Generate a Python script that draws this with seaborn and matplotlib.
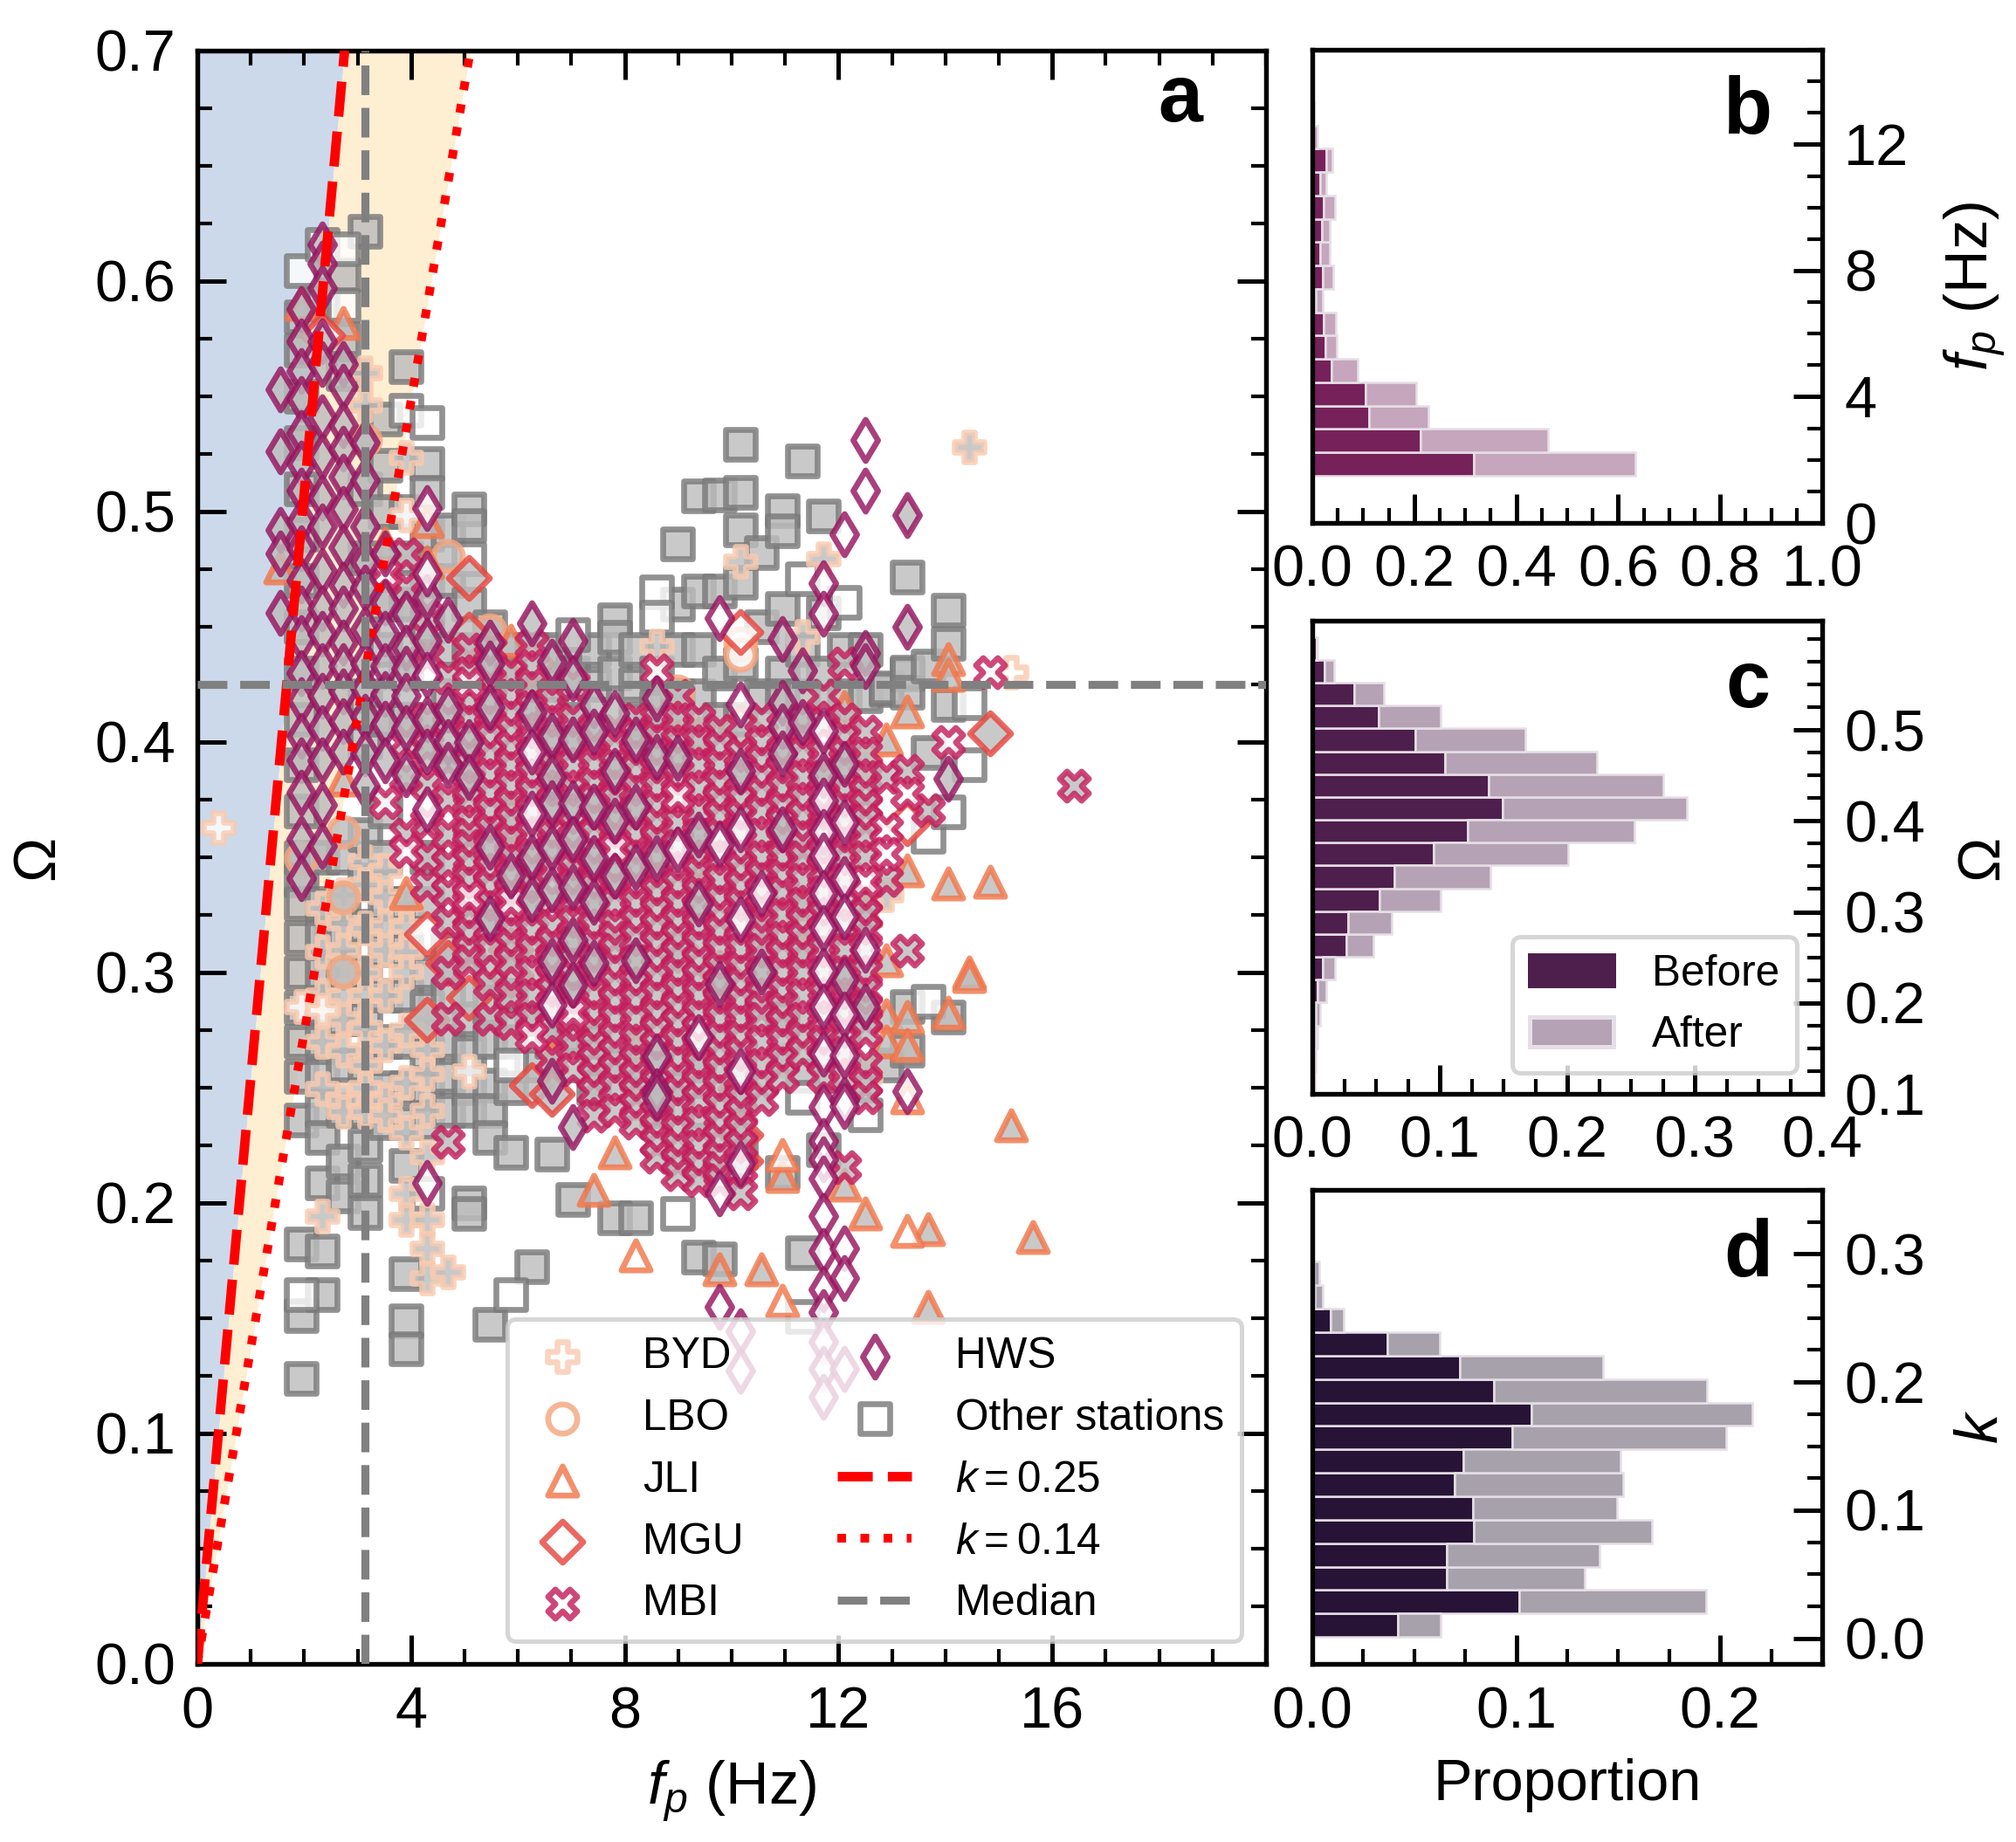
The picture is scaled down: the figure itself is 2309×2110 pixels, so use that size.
import numpy as np
import pandas as pd
import matplotlib
matplotlib.use('Agg')
import matplotlib.pyplot as plt
from matplotlib.patches import Patch
from matplotlib.ticker import MultipleLocator
import seaborn as sns

# scatter data: {fp in Hz: [Omega, ...]}
OTHER_FILLED = {
    1.95: [.5843, .57, .55, .53, .51, .49, .47, .45, .43, .41, .39, .37, .35, .34, .33, .315, .30, .285, .27, .255, .2358, .1822, .1512, .124],
    2.34: [.59, .35, .33, .315, .30, .285, .27, .255, .24, .2283, .2087, .179, .1601],
    2.73: [.6026, .575, .56, .35, .33, .315, .30, .28, .26, .24, .2182, .203],
    3.13: [.6215, .51, .48, .42, .40, .36, .34, .32, .30, .28, .26, .24, .225, .21, .196],
    3.52: [.54, .52, .50, .46, .44, .41, .37, .35, .33, .31, .29, .27, .25, .235],
    3.91: [.5628, .5, .48, .46, .43, .41, .33, .31, .29, .27, .25, .235, .2163, .1695, .1487, .1367],
    4.30: [.521, .5085, .49, .47, .45, .35, .33, .3, .285, .265, .25, .235],
    4.69: [.492, .47, .44, .42, .31, .29, .27, .255, .24],
    5.08: [.501, .494, .46, .44, .28, .265, .25, .24, .2, .1954],
    5.47: [.45, .43, .3, .285, .27, .251, .24, .2283, .1474],
    5.86: [.44, .43, .29, .27, .25, .222],
    6.25: [.44, .43, .28, .26, .1723],
    6.64: [.44, .425, .28, .27, .2213],
    7.03: [.43, .41, .27, .2017],
    7.42: [.44, .425, .27, .25],
    7.81: [.4529, .4454, .43, .26, .1935],
    8.20: [.44, .425, .41, .26, .1935],
    8.59: [.43, .415, .24],
    8.98: [.486, .46, .44, .42, .25],
    9.38: [.507, .4656, .44, .42, .26, .1765],
    9.77: [.5073, .4656, .43, .41, .1758],
    10.16: [.5291, .5085, .4921, .4694, .434, .41, .222],
    10.55: [.4823, .45, .42],
    10.94: [.5003, .4915, .458, .43, .42, .28, .2131],
    11.33: [.5221, .44, .42, .2554, .1784],
    11.72: [.4982, .4561, .43, .2232],
    12.11: [.44, .42],
    12.50: [.44, .42],
    12.89: [.4227, .4234, .26],
    13.28: [.4715, .4296, .4303, .4215, .2851, .2661],
    13.67: [.4328, .3956],
    14.06: [.4571, .4429, .4164, .2807],
}
OTHER_OPEN = {
    1.95: [.6045, .1601], 2.34: [.616], 2.73: [.614, .5893], 3.91: [.5439], 4.30: [.5388, .2043],
    5.08: [.4795], 5.86: [.26, .1601], 7.03: [.4466, .26], 8.59: [.465, .4542], 8.98: [.1954],
    9.38: [.24], 11.33: [.4707, .246, .1506], 12.11: [.4606], 12.50: [.2384],
    13.67: [.359, .2876], 14.06: [.3697], 14.45: [.4171, .3902],
}
BYD_FILLED = {
    2.34: [.328, .3091, .29, .2699, .2497, .1942],
    2.73: [.3337, .3217, .31, .29, .28, .2661, .2447, .2396],
    3.13: [.5603, .5464, .3482, .3381, .3192, .3, .29, .2762, .26, .25, .2396],
    3.52: [.3444, .3331, .3204, .31, .2901, .2687, .2447, .2384],
    3.91: [.5234, .33, .32, .3091, .3002, .275, .2522, .2308, .2043, .1929],
    4.30: [.28, .2668, .256, .24, .2201, .1929, .1803, .1676],
    4.69: [.1702],
    8.59: [.4416],
    10.16: [.4785],
    10.94: [.2623],
    11.33: [.446],
    11.72: [.4795],
    12.50: [.391, .2548],
    12.89: [.3337],
    14.45: [.5279],
}
BYD_OPEN = {0.39: [.363], 1.95: [.2851], 2.34: [.2838], 3.91: [.4984], 5.08: [.2573], 15.23: [.4302]}
LBO_FILLED = {1.95: [.3495], 2.73: [.3609, .3324, .3002], 3.13: [.5312], 4.69: [.4807], 5.47: [.4486], 8.98: [.4221, .4107]}
LBO_OPEN = {10.16: [.4429, .438]}
JLI_FILLED = {
    1.56: [.4757], 1.95: [.59], 2.73: [.5817, .3836], 3.52: [.486], 3.91: [.3343], 4.30: [.496, .478],
    5.86: [.444], 6.64: [.2636], 7.42: [.2055], 7.81: [.222], 8.20: [.2686], 8.98: [.4025], 9.38: [.4038],
    9.77: [.1714], 10.55: [.1714], 10.94: [.2118], 11.33: [.33, .31], 12.11: [.4152, .2081], 12.50: [.3268, .1954],
    12.89: [.4013, .3053, .2813, .2699], 13.28: [.4133, .3444, .2807, .2687], 13.67: [.1885, .155],
    14.06: [.436, .4291, .3388, .2825], 14.45: [.2999, .2985], 14.84: [.3394], 15.23: [.2339], 15.63: [.1853],
}
JLI_OPEN = {8.20: [.2434, .1771], 10.94: [.2207, .1575], 13.28: [.2459, .1878]}
MGU_FILLED = {
    4.30: [.2794], 4.69: [.304], 5.08: [.4712, .4466, .2889], 5.86: [.3659, .31, .299], 6.25: [.251], 6.64: [.2472],
    7.42: [.34], 8.98: [.31], 9.38: [.35], 9.77: [.3], 10.16: [.4063, .2497, .2295, .2182], 10.55: [.33], 14.84: [.4038],
}
MGU_OPEN = {2.34: [.5767], 4.30: [.3167], 6.25: [.4341], 10.16: [.4479], 13.28: [.3646]}
MBI_FILLED = {
    3.91: [.4813, .4668, .4, .385, .36],
    4.30: [.455, .437, .41, .398, .3815, .365, .35, .338],
    4.69: [.428, .41, .392, .375, .36, .347, .335, .322, .3, .28, .2264],
    5.08: [.44, .43, .418, .41, .402, .395, .39, .38, .375, .365, .36, .355, .348, .34, .33, .325, .317, .31, .305],
    5.47: [.44, .432, .425, .418, .41, .402, .395, .386, .378, .37, .362, .354, .345, .338, .33, .32, .31, .295, .28],
    5.86: [.43, .42, .412, .405, .398, .39, .381, .373, .366, .358, .35, .342, .335, .326, .318, .312, .305, .29, .278],
    6.25: [.442, .433, .425, .415, .405, .395, .386, .378, .37, .36, .351, .345, .338, .328, .318, .31, .3, .29, .28],
    6.64: [.418, .41, .4, .39, .38, .37, .36, .352, .345, .332, .32, .313, .305, .298, .292, .283, .275, .262],
    7.03: [.425, .41, .4, .39, .38, .37, .358, .352, .345, .338, .332, .322, .313, .305, .298, .29, .28, .268, .258],
    7.42: [.405, .398, .39, .382, .375, .367, .36, .352, .345, .337, .33, .32, .312, .305, .298, .29, .282, .275, .268, .262, .255, .248, .238],
    7.81: [.405, .398, .39, .382, .375, .367, .36, .352, .345, .337, .33, .32, .315, .31, .302, .295, .288, .28, .272, .265, .258, .25, .24],
    8.20: [.41, .403, .395, .388, .38, .37, .36, .352, .345, .338, .33, .322, .315, .305, .295, .288, .28, .271, .262, .255, .248, .242, .235],
    8.59: [.41, .402, .395, .388, .38, .372, .365, .358, .35, .342, .335, .327, .32, .312, .305, .298, .29, .282, .275, .268, .26, .252, .245, .239, .2333, .226, .22],
    8.98: [.42, .41, .4, .393, .385, .375, .365, .355, .345, .338, .33, .322, .315, .308, .3, .292, .285, .278, .27, .262, .255, .248, .24, .232, .2251, .218, .2125],
    9.38: [.41, .4, .39, .38, .37, .36, .35, .343, .335, .328, .32, .312, .305, .298, .29, .282, .275, .268, .26, .252, .245, .235, .2245, .217, .21],
    9.77: [.405, .398, .39, .382, .375, .368, .36, .35, .34, .332, .325, .318, .31, .302, .295, .288, .28, .272, .265, .258, .25, .242, .235, .228, .22, .215, .21],
    10.16: [.395, .385, .375, .368, .36, .352, .345, .338, .33, .32, .31, .302, .295, .288, .28, .272, .265, .255, .245, .239, .232, .225, .215, .2043],
    10.55: [.41, .4, .392, .385, .378, .37, .36, .35, .342, .335, .328, .32, .315, .31, .3, .29, .285, .28, .27, .26, .252, .245],
    10.94: [.395, .388, .38, .372, .365, .358, .35, .342, .335, .325, .315, .308, .3, .292, .285, .278, .27, .262, .255],
    11.33: [.41, .402, .395, .385, .375, .368, .36, .355, .35, .34, .33, .322, .315, .308, .3, .29, .28, .272, .265],
    11.72: [.42, .408, .395, .385, .375, .368, .36, .352, .345, .335, .325, .318, .31, .3, .29, .28, .27, .262, .255],
    12.11: [.434, .41, .402, .395, .388, .38, .372, .365, .358, .35, .34, .33, .32, .31, .3, .29, .282, .275, .265, .255, .2156],
    12.50: [.4044, .395, .385, .378, .3722, .366, .36, .3501, .332, .325, .318, .31, .3, .292, .285, .28, .2743, .26, .252, .2459],
    12.89: [.385, .34],
    13.28: [.3874, .3093],
    13.67: [.3703],
    16.41: [.381],
}
MBI_OPEN = {
    3.52: [.473, .374], 3.91: [.3526], 5.08: [.4253, .3331], 5.86: [.3305], 6.25: [.2724], 7.03: [.2825],
    7.81: [.3539], 8.59: [.431], 8.98: [.3766], 12.50: [.3394], 12.89: [.3621, .3514], 13.28: [.3775],
    14.06: [.4], 14.84: [.4303],
}
HWS_FILLED = {
    1.56: [.553, .526, .492, .482, .456],
    1.95: [.588, .574, .561, .549, .534, .521, .509, .496, .484, .47, .458, .445, .43, .418, .4026, .392, .378, .358, .341],
    2.34: [.616, .6076, .597, .574, .564, .541, .524, .506, .4934, .4744, .458, .447, .433, .42, .406, .392, .3727, .355],
    2.73: [.564, .554, .5375, .5274, .515, .501, .4845, .468, .458, .443, .433, .422, .409, .396],
    3.13: [.53, .5136, .4934, .478, .467, .449, .434, .423, .411, .395, .381],
    3.52: [.482, .4605, .447, .433, .421, .408, .392],
    3.91: [.4555, .441, .432, .42, .406, .386],
    4.30: [.463, .444, .41, .396],
    4.69: [.453, .414, .4, .39],
    5.08: [.4, .385],
    5.47: [.443, .434, .415, .3545, .3235],
    5.86: [.342],
    6.25: [.4517, .413, .35, .332],
    6.64: [.435, .4025, .385, .3735, .354, .336, .305, .253],
    7.03: [.444, .4278, .4013, .3735, .358, .337, .314, .2947, .233],
    7.42: [.416, .4044, .372, .3495, .3305, .304],
    7.81: [.4126, .3874, .366, .342],
    8.20: [.4013, .372, .3457, .3053],
    8.59: [.419, .3937, .3495, .2636, .2485, .2457],
    8.98: [.393],
    9.38: [.36, .33],
    9.77: [.2952],
    10.16: [.3874],
    10.55: [.3002],
    10.94: [.4448, .4171, .407, .395, .3621],
    11.33: [.431, .4089],
    11.72: [.3855],
    12.11: [.3905, .2971],
    12.50: [.4385, .4329, .2851],
    13.28: [.4985, .45],
    14.06: [.3842],
}
HWS_OPEN = {
    4.30: [.5016, .473, .429, .371, .2086],
    6.25: [.396, .369],
    6.64: [.286],
    8.98: [.3533],
    9.38: [.2718],
    9.77: [.4536, .3558, .2043, .155],
    10.16: [.4164, .3621, .323, .2573, .2169, .1443, .1272],
    10.55: [.3343],
    11.72: [.4688, .4555, .4051, .3747, .3609, .3508, .3343, .3192, .3009, .2851, .2649, .2415, .227, .219, .2106, .1942, .179, .1626, .1525, .1399, .128, .116],
    12.11: [.49, .3653, .3406, .3242, .2819, .2642, .2447, .2421, .1803, .1676, .128],
    12.50: [.531, .509, .3097],
    13.28: [.2485],
}

K_STEEP = 0.254
K_SHALLOW = 0.137
FP_MEDIAN = 3.13
OMEGA_MEDIAN = 0.425

# stacked histograms, bottom bin first
FP_EDGE_START, FP_BIN = 1.5, 0.74
FP_BEFORE = [.317, .212, .111, .104, .038, .026, .023, .006, .020, .015, .018, .023, .015, .027, .002, .001]
FP_AFTER = [.317, .251, .117, .099, .051, .022, .023, .014, .021, .019, .016, .021, .012, .012, .009, .003]
OM_EDGE_START, OM_BIN = 0.1, 0.0251
OM_BEFORE = [.001, .002, .0024, .003, .0043, .008, .027, .028, .053, .0645, .095, .122, .149, .1385, .104, .081, .052, .033, .0098, .0034]
OM_AFTER = [.001, .001, .0016, .0034, .007, .010, .021, .034, .0476, .0755, .106, .131, .145, .137, .1195, .086, .0486, .023, .0076, .0006]
K_EDGE_START, K_BIN = 0.001, 0.0183
K_BEFORE = [.042, .1013, .0658, .0658, .0792, .0788, .0697, .074, .098, .1074, .089, .0723, .0368, .0092, .0011, .001]
K_AFTER = [.0208, .0917, .0676, .075, .0874, .0704, .0828, .077, .1049, .1084, .1043, .0701, .0258, .0063, .0042, .0024]

W, H = 2309, 2110


def columns_to_frame(columns):
    rows = [(fp, om) for fp, oms in columns.items() for om in oms]
    return pd.DataFrame(rows, columns=['fp', 'omega'])


def axes_px(fig, left, top, right, bottom):
    return fig.add_axes([left / W, 1 - bottom / H, (right - left) / W, (bottom - top) / H])


def style_axis(ax, xmajor, xminor, ymajor, yminor, side_panel=False):
    ax.xaxis.set_major_locator(MultipleLocator(xmajor))
    ax.xaxis.set_minor_locator(MultipleLocator(xminor))
    ax.yaxis.set_major_locator(MultipleLocator(ymajor))
    ax.yaxis.set_minor_locator(MultipleLocator(yminor))
    if side_panel:
        ax.tick_params(which='both', direction='in', top=False, left=False, right=True, bottom=True,
                       labelleft=False, labelright=True)
        ax.yaxis.set_label_position('right')
    else:
        ax.tick_params(which='both', direction='in', top=True, right=True, bottom=True, left=True)
    ax.tick_params(which='major', length=8, width=1.2, labelsize=16, pad=6, color='black', labelcolor='black')
    ax.tick_params(which='minor', length=4, width=1.0, color='black')
    for s in ax.spines.values():
        s.set_visible(True)
        s.set_linewidth(1.3)
        s.set_color('black')


def draw_hist(ax, start, step, before, after, dark, light):
    n = len(before)
    edges = start + step * np.arange(n + 1)
    centers = (edges[:-1] + edges[1:]) / 2
    df = pd.DataFrame({
        'value': np.r_[centers, centers],
        'w': np.r_[before, after],
        'stage': ['Before'] * n + ['After'] * n,
    })
    # seaborn stacks the last hue level first, so Before goes last to sit at the axis
    sns.histplot(data=df, y='value', weights='w', hue='stage', hue_order=['After', 'Before'],
                 multiple='stack', bins=n, binrange=(edges[0], edges[-1]),
                 palette={'Before': dark, 'After': light}, alpha=1,
                 edgecolor='#e6dfe6', linewidth=0.6, ax=ax, legend=False)


sns.set_style('ticks')
plt.rcParams['font.family'] = ['Liberation Sans', 'DejaVu Sans']
plt.rcParams['mathtext.fontset'] = 'custom'
plt.rcParams['mathtext.rm'] = 'Liberation Sans'
plt.rcParams['mathtext.it'] = 'Liberation Sans:italic'
plt.rcParams['mathtext.bf'] = 'Liberation Sans:bold'
plt.rcParams['patch.linewidth'] = 1.2
plt.rcParams['text.color'] = 'black'
plt.rcParams['axes.labelcolor'] = 'black'

fig = plt.figure(figsize=(W / 300, H / 300), dpi=300)
ax_a = axes_px(fig, 226, 58, 1450, 1906)
ax_b = axes_px(fig, 1503, 57, 2087, 599)
ax_c = axes_px(fig, 1503, 711, 2087, 1253)
ax_d = axes_px(fig, 1503, 1363, 2087, 1906)

# shaded k regions
omega_line = np.array([0.0, 0.7])
ax_a.fill_betweenx(omega_line, 0, omega_line / K_STEEP, color='#ccd9ea', lw=0, zorder=0.5)
ax_a.fill_betweenx(omega_line, omega_line / K_STEEP, omega_line / K_SHALLOW, color='#feeed2', lw=0, zorder=0.5)

stations = [
    ('Other stations', OTHER_FILLED, OTHER_OPEN, 's', '#7a7a7a'),
    ('BYD', BYD_FILLED, BYD_OPEN, 'P', '#f9cbb0'),
    ('LBO', LBO_FILLED, LBO_OPEN, 'o', '#f4a67f'),
    ('JLI', JLI_FILLED, JLI_OPEN, '^', '#f2764a'),
    ('MGU', MGU_FILLED, MGU_OPEN, 'D', '#e6463f'),
    ('MBI', MBI_FILLED, MBI_OPEN, 'X', '#c41e5c'),
    ('HWS', HWS_FILLED, HWS_OPEN, 'd', '#96155f'),
]
handles = {}
for i, (name, filled, opened, mk, col) in enumerate(stations):
    z = 2 + i * 0.1
    sns.scatterplot(data=columns_to_frame(filled), x='fp', y='omega', marker=mk, s=64, color='#bdbdbd',
                    edgecolor=col, linewidth=1.6, alpha=0.82, zorder=z, ax=ax_a)
    sns.scatterplot(data=columns_to_frame(opened), x='fp', y='omega', marker=mk, s=64, color='white',
                    edgecolor=col, linewidth=1.6, alpha=0.82, zorder=z + 0.05, ax=ax_a, label=name)
    handles[name] = ax_a.collections[-1]

l1, = ax_a.plot(omega_line / K_STEEP, omega_line, color='red', ls='--', lw=2.6, zorder=4, label='$k=0.25$')
l2, = ax_a.plot(omega_line / K_SHALLOW, omega_line, color='red', ls=':', lw=2.4, zorder=4, label='$k=0.14$')
l3 = ax_a.axhline(OMEGA_MEDIAN, color='gray', ls='--', lw=2.2, zorder=4, label='Median')
ax_a.axvline(FP_MEDIAN, color='gray', ls='--', lw=2.2, zorder=4)

ax_a.set_xlim(0, 20)
ax_a.set_ylim(0, 0.7)
style_axis(ax_a, 4, 1, 0.1, 0.025)
ax_a.set_xticks([0, 4, 8, 12, 16])
ax_a.set_xlabel('$f_p$ (Hz)', fontsize=16.5, labelpad=5)
ax_a.set_ylabel('Ω', fontsize=16.5, labelpad=8)
order = ['BYD', 'LBO', 'JLI', 'MGU', 'MBI', 'HWS', 'Other stations']
leg_handles = [handles[n] for n in order] + [l1, l2, l3]
leg_labels = order + ['$k=0.25$', '$k=0.14$', 'Median']
ax_a.legend(leg_handles, leg_labels, ncols=2, loc='lower right', bbox_to_anchor=(0.977, 0.014), borderaxespad=0,
            frameon=True, fontsize=11.9, labelspacing=0.5, columnspacing=2.17, handletextpad=1.0, handlelength=1.72)
ax_a.text(0.92, 0.969, 'a', transform=ax_a.transAxes, fontsize=22, fontweight='bold', ha='center', va='center', zorder=6)

draw_hist(ax_b, FP_EDGE_START, FP_BIN, FP_BEFORE, FP_AFTER, '#762159', '#c5a6bd')
ax_b.set_xlim(0, 1)
ax_b.set_ylim(0, 15)
style_axis(ax_b, 0.2, 0.05, 4, 1, side_panel=True)
ax_b.set_xlabel('')
ax_b.set_ylabel('$f_p$ (Hz)', fontsize=16.5, labelpad=9)
ax_b.text(0.855, 0.867, 'b', transform=ax_b.transAxes, fontsize=22, fontweight='bold', ha='center', va='center')

draw_hist(ax_c, OM_EDGE_START, OM_BIN, OM_BEFORE, OM_AFTER, '#4e1f4d', '#b5a3b5')
ax_c.set_xlim(0, 0.4)
ax_c.set_ylim(0.1, 0.62)
style_axis(ax_c, 0.1, 0.025, 0.1, 0.025, side_panel=True)
ax_c.set_yticks([0.1, 0.2, 0.3, 0.4, 0.5])
ax_c.set_xlabel('')
ax_c.set_ylabel('Ω', fontsize=16.5, labelpad=8)
ax_c.legend(handles=[Patch(color='#4e1f4d', label='Before'), Patch(facecolor='#b5a3b5', edgecolor='#e6dfe6', label='After')],
            loc='lower right', bbox_to_anchor=(0.951, 0.044), borderaxespad=0, frameon=True,
            fontsize=11.9, labelspacing=0.5, handletextpad=0.9, handlelength=1.93)
ax_c.text(0.855, 0.862, 'c', transform=ax_c.transAxes, fontsize=22, fontweight='bold', ha='center', va='center')

draw_hist(ax_d, K_EDGE_START, K_BIN, K_BEFORE, K_AFTER, '#261336', '#a7a1ac')
ax_d.set_xlim(0, 0.25)
ax_d.set_ylim(-0.02, 0.35)
style_axis(ax_d, 0.1, 0.025, 0.1, 0.025, side_panel=True)
ax_d.set_xlabel('Proportion', fontsize=16, labelpad=5)
ax_d.set_ylabel('$k$', fontsize=16.5, labelpad=8)
ax_d.text(0.855, 0.862, 'd', transform=ax_d.transAxes, fontsize=22, fontweight='bold', ha='center', va='center')

fig.savefig('out.png', dpi=300)
